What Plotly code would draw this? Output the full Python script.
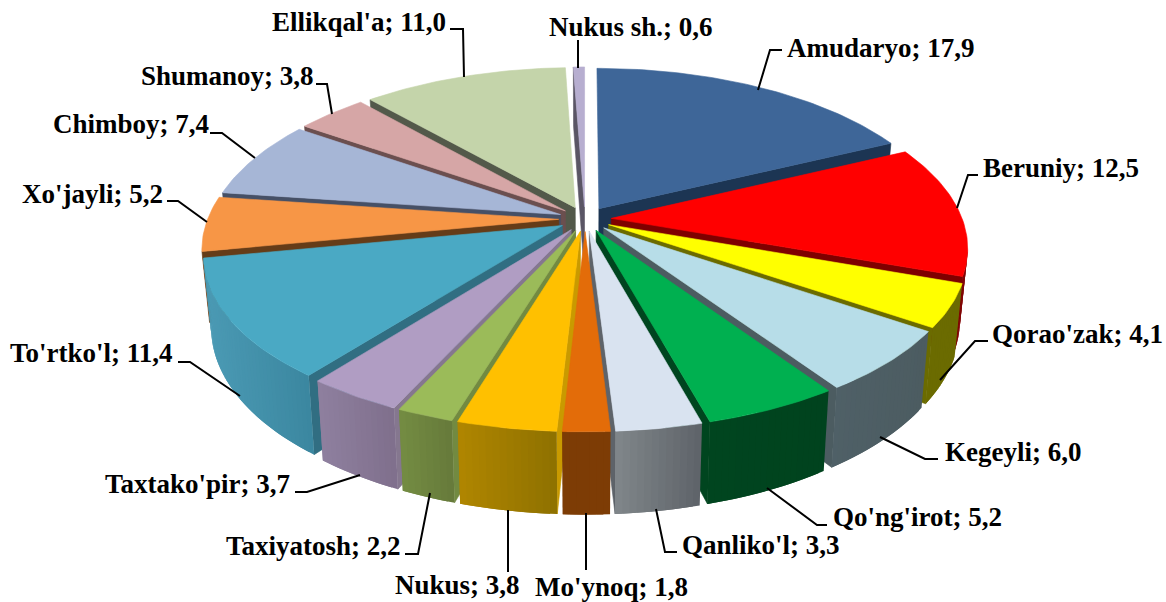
import math
import plotly.graph_objects as go

# ---- data ----
districts = ["Amudaryo", "Beruniy", "Qorao'zak", "Kegeyli", "Qo'ng'irot", "Qanliko'l", "Mo'ynoq", "Nukus",
             "Taxiyatosh", "Taxtako'pir", "To'rtko'l", "Xo'jayli", "Chimboy", "Shumanoy", "Ellikqal'a", "Nukus sh."]
shares = [17.9, 12.5, 4.1, 6.0, 5.2, 3.3, 1.8, 3.8, 2.2, 3.7, 11.4, 5.2, 7.4, 3.8, 11.0, 0.6]

# ---- styles ----
top_colors = ["#3e6698", "#ff0000", "#ffff00", "#b7dde8", "#00b050", "#d9e3f0", "#e36c09", "#ffc000",
              "#9bbb59", "#b09dc3", "#4aa9c4", "#f79646", "#a6b6d6", "#d6a6a6", "#c4d4aa", "#b7aed0"]
radial_colors = ["#1c3553", "#7f0000", "#6b6b00", "#4c5c61", "#00451f", "#5e6369", "#7d3c05", "#c99a00",
                 "#728a41", "#85778f", "#316e82", "#653c18", "#465066", "#6b4f4f", "#53594a", "#5a5565"]
wall_left = ["#1c3553", "#7f0000", "#6b6b00", "#4f6067", "#00451f", "#80868a", "#7d3c05", "#b08600",
             "#748c42", "#8f809f", "#4b9ab4", "#7a4a20", "#556", "#6b4f4f", "#53594a", "#5a5565"]
wall_right = ["#1c3553", "#7f0000", "#6b6b00", "#4c5c61", "#00431e", "#5e6369", "#7d3c05", "#8e7100",
              "#667a3a", "#7f6f8c", "#3b87a0", "#7a4a20", "#556", "#6b4f4f", "#53594a", "#5a5565"]
FONT = "Liberation Serif"
FONT_SIZE = 27

# ---- view of the 3D pie ----
CX, CY = 585, 219
RX, RY = 351, 165
K = 0.155
KX = 0.165
E = 0.075
H = 69
BOTTOM_X = 0.98


def project(x, y, z=0.0):
    """z=0 top face, z=1 bottom face."""
    s = 1.0 / (1.0 + K * y)
    sx = 1.0 / (1.0 + KX * y)
    f = 1.0 - (1.0 - BOTTOM_X) * z
    return CX + RX * x * sx * f, CY - RY * y * s + H * z * s


def lerp_hex(a, b, t):
    def parse(c):
        c = c.lstrip("#")
        if len(c) == 3:
            c = "".join(ch * 2 for ch in c)
        return [int(c[i:i + 2], 16) for i in (0, 2, 4)]
    pa, pb = parse(a), parse(b)
    return "rgb(%d,%d,%d)" % tuple(round(p + (q - p) * t) for p, q in zip(pa, pb))


fig = go.Figure()


def poly(pts, color, width=0.6):
    xs = [p[0] for p in pts] + [pts[0][0]]
    ys = [p[1] for p in pts] + [pts[0][1]]
    fig.add_trace(go.Scatter(x=xs, y=ys, mode="lines", fill="toself", fillcolor=color,
                             line=dict(color=color, width=width), hoverinfo="skip", showlegend=False))


total = sum(shares)
wedges = []
acc = 0.0
for i, v in enumerate(shares):
    a0 = acc / total * 2 * math.pi
    acc += v
    a1 = acc / total * 2 * math.pi
    wedges.append((i, a0, a1))


def mid_y(w):
    return math.cos((w[1] + w[2]) / 2)


for i, a0, a1 in sorted(wedges, key=mid_y, reverse=True):
    am = (a0 + a1) / 2
    ox, oy = E * math.sin(am), E * math.cos(am)
    n = max(2, int(math.degrees(a1 - a0)) + 1)
    angles = [a0 + (a1 - a0) * j / n for j in range(n + 1)]
    rim = [(ox + math.sin(a), oy + math.cos(a)) for a in angles]
    cam_y = -1.0 / K

    # radial walls facing the viewer
    if a0 > math.pi:
        p = rim[0]
        poly([project(ox, oy, 0), project(*p, 0), project(*p, 1), project(ox, oy, 1)], radial_colors[i])
    if a1 < math.pi:
        p = rim[-1]
        poly([project(ox, oy, 0), project(*p, 0), project(*p, 1), project(ox, oy, 1)], radial_colors[i])

    # outer wall, overlapping strips shaded along the screen
    xs_rim = [project(*p, 0)[0] for p in rim]
    x_lo, x_hi = min(xs_rim), max(xs_rim)
    visible = [j for j in range(n)
               if 1 + (oy - cam_y) * math.cos((angles[j] + angles[j + 1]) / 2)
               + ox * math.sin((angles[j] + angles[j + 1]) / 2) < 0]
    for idx, j in enumerate(visible):
        p = rim[j]
        q = rim[visible[min(idx + 1, len(visible) - 1)] + 1]
        xm = (project(*rim[j], 0)[0] + project(*rim[j + 1], 0)[0]) / 2
        t = (xm - x_lo) / max(x_hi - x_lo, 1)
        mid = (angles[j] + angles[min(j + 1, n)]) / 2
        m = (ox + math.sin(mid), oy + math.cos(mid))
        poly([project(*p, 0), project(*m, 0), project(*q, 0), project(*q, 1), project(*m, 1), project(*p, 1)],
             lerp_hex(wall_left[i], wall_right[i], t), width=0)

    # top face
    poly([project(ox, oy, 0)] + [project(*p, 0) for p in rim], top_colors[i])

# ---- labels and leader lines (pixel placement on the 1166x602 frame) ----
label_pos = [(785, 48), (981, 168), (990, 334), (943, 452), (831, 517), (680, 545), (533, 587), (393, 585),
             (224, 546), (103, 484), (8, 353), (20, 194), (51, 124), (139, 76), (270, 22), (547, 27)]
leaders = [[(782, 50), (770, 50), (758, 90)], [(978, 175), (968, 175), (957, 208)],
           [(988, 341), (975, 341), (940, 380)], [(938, 459), (925, 459), (880, 437)],
           [(827, 525), (817, 525), (767, 488)], [(677, 552), (665, 552), (656, 509)],
           [(586, 570), (586, 513)], [(508, 572), (508, 510)],
           [(405, 554), (418, 554), (430, 493)], [(295, 492), (307, 492), (360, 475)],
           [(178, 362), (190, 362), (240, 396)], [(167, 201), (178, 201), (207, 222)],
           [(210, 133), (222, 133), (255, 158)], [(316, 84), (327, 84), (332, 114)],
           [(450, 29), (463, 29), (464, 77)], [(578, 40), (578, 68)]]

for path in leaders:
    fig.add_trace(go.Scatter(x=[p[0] for p in path], y=[p[1] for p in path], mode="lines",
                             line=dict(color="black", width=2), hoverinfo="skip", showlegend=False))

annotations = [dict(x=lx, y=ly, xref="x", yref="y", xanchor="left", yanchor="middle", showarrow=False,
                    text="<b>%s; %s</b>" % (name, str(val).replace(".", ",")),
                    font=dict(family=FONT, size=FONT_SIZE, color="black"))
               for name, val, (lx, ly) in zip(districts, shares, label_pos)]

fig.update_layout(width=1166, height=602, margin=dict(l=0, r=0, t=0, b=0), paper_bgcolor="white",
                  plot_bgcolor="white", showlegend=False, annotations=annotations,
                  xaxis=dict(range=[0, 1166], visible=False, fixedrange=True),
                  yaxis=dict(range=[602, 0], visible=False, fixedrange=True))
fig.write_html("out.html", config=dict(displayModeBar=False),
               post_script="document.body.style.margin='0';document.body.style.overflow='hidden';")
